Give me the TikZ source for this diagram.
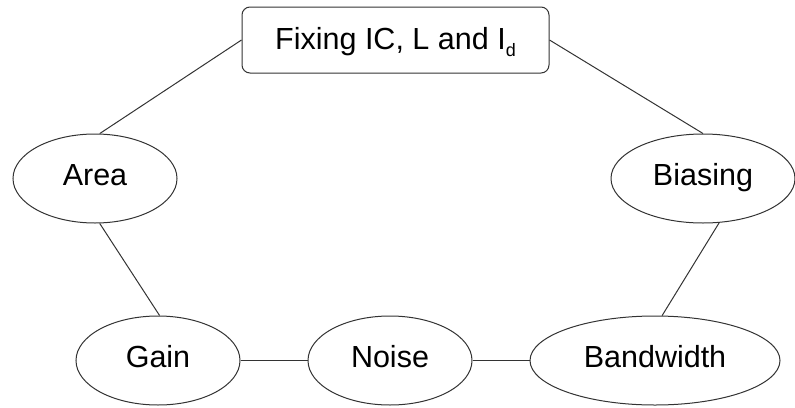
\documentclass[tikz,border=0pt]{standalone}
\usepackage{fontspec}
\setmainfont{Liberation Sans}
\usetikzlibrary{shapes.geometric}
\newcommand{\sublow}[1]{\raisebox{-0.22em}{\fontsize{18}{18}\selectfont #1}}
\begin{document}
\begin{tikzpicture}[x=1pt,y=-1pt,
  lbl/.style={font=\fontsize{30.5}{36}\selectfont, text=black},
  oval/.style={ellipse, draw=black!80, line width=1pt, inner sep=0pt, fill=white,
    text height=22pt, text depth=8pt, lbl},
  topbox/.style={rectangle, rounded corners=8pt, draw=black!80, line width=1pt, inner sep=0pt,
    fill=white, text height=22pt, text depth=3pt, lbl},
  link/.style={draw=black!80, line width=1pt}]
\useasboundingbox (0,0) rectangle (795,407);

% parameter nodes
\node[topbox, minimum width=307pt, minimum height=66pt] (fix) at (395.5,40) {Fixing IC, L and I\sublow{d}};
\node[oval, minimum width=164pt, minimum height=89pt] (area) at (95,178.5) {Area};
\node[oval, minimum width=184pt, minimum height=89pt] (bias) at (703,178.5) {Biasing};
\node[oval, minimum width=164pt, minimum height=89pt] (gain) at (158,360.5) {Gain};
\node[oval, minimum width=164pt, minimum height=89pt] (noise) at (390,360.5) {Noise};
\node[oval, minimum width=250pt, minimum height=89pt] (bw) at (655,360.5) {Bandwidth};

% trade-off links
\draw[link] (fix.west) -- (area.84);
\draw[link] (fix.east) -- (bias.north);
\draw[link] (area.-84) -- (gain.88);
\draw[link] (bias.-70) -- (bw.81);
\draw[link] (gain.east) -- (noise.west);
\draw[link] (noise.east) -- (bw.west);
\end{tikzpicture}
\end{document}
